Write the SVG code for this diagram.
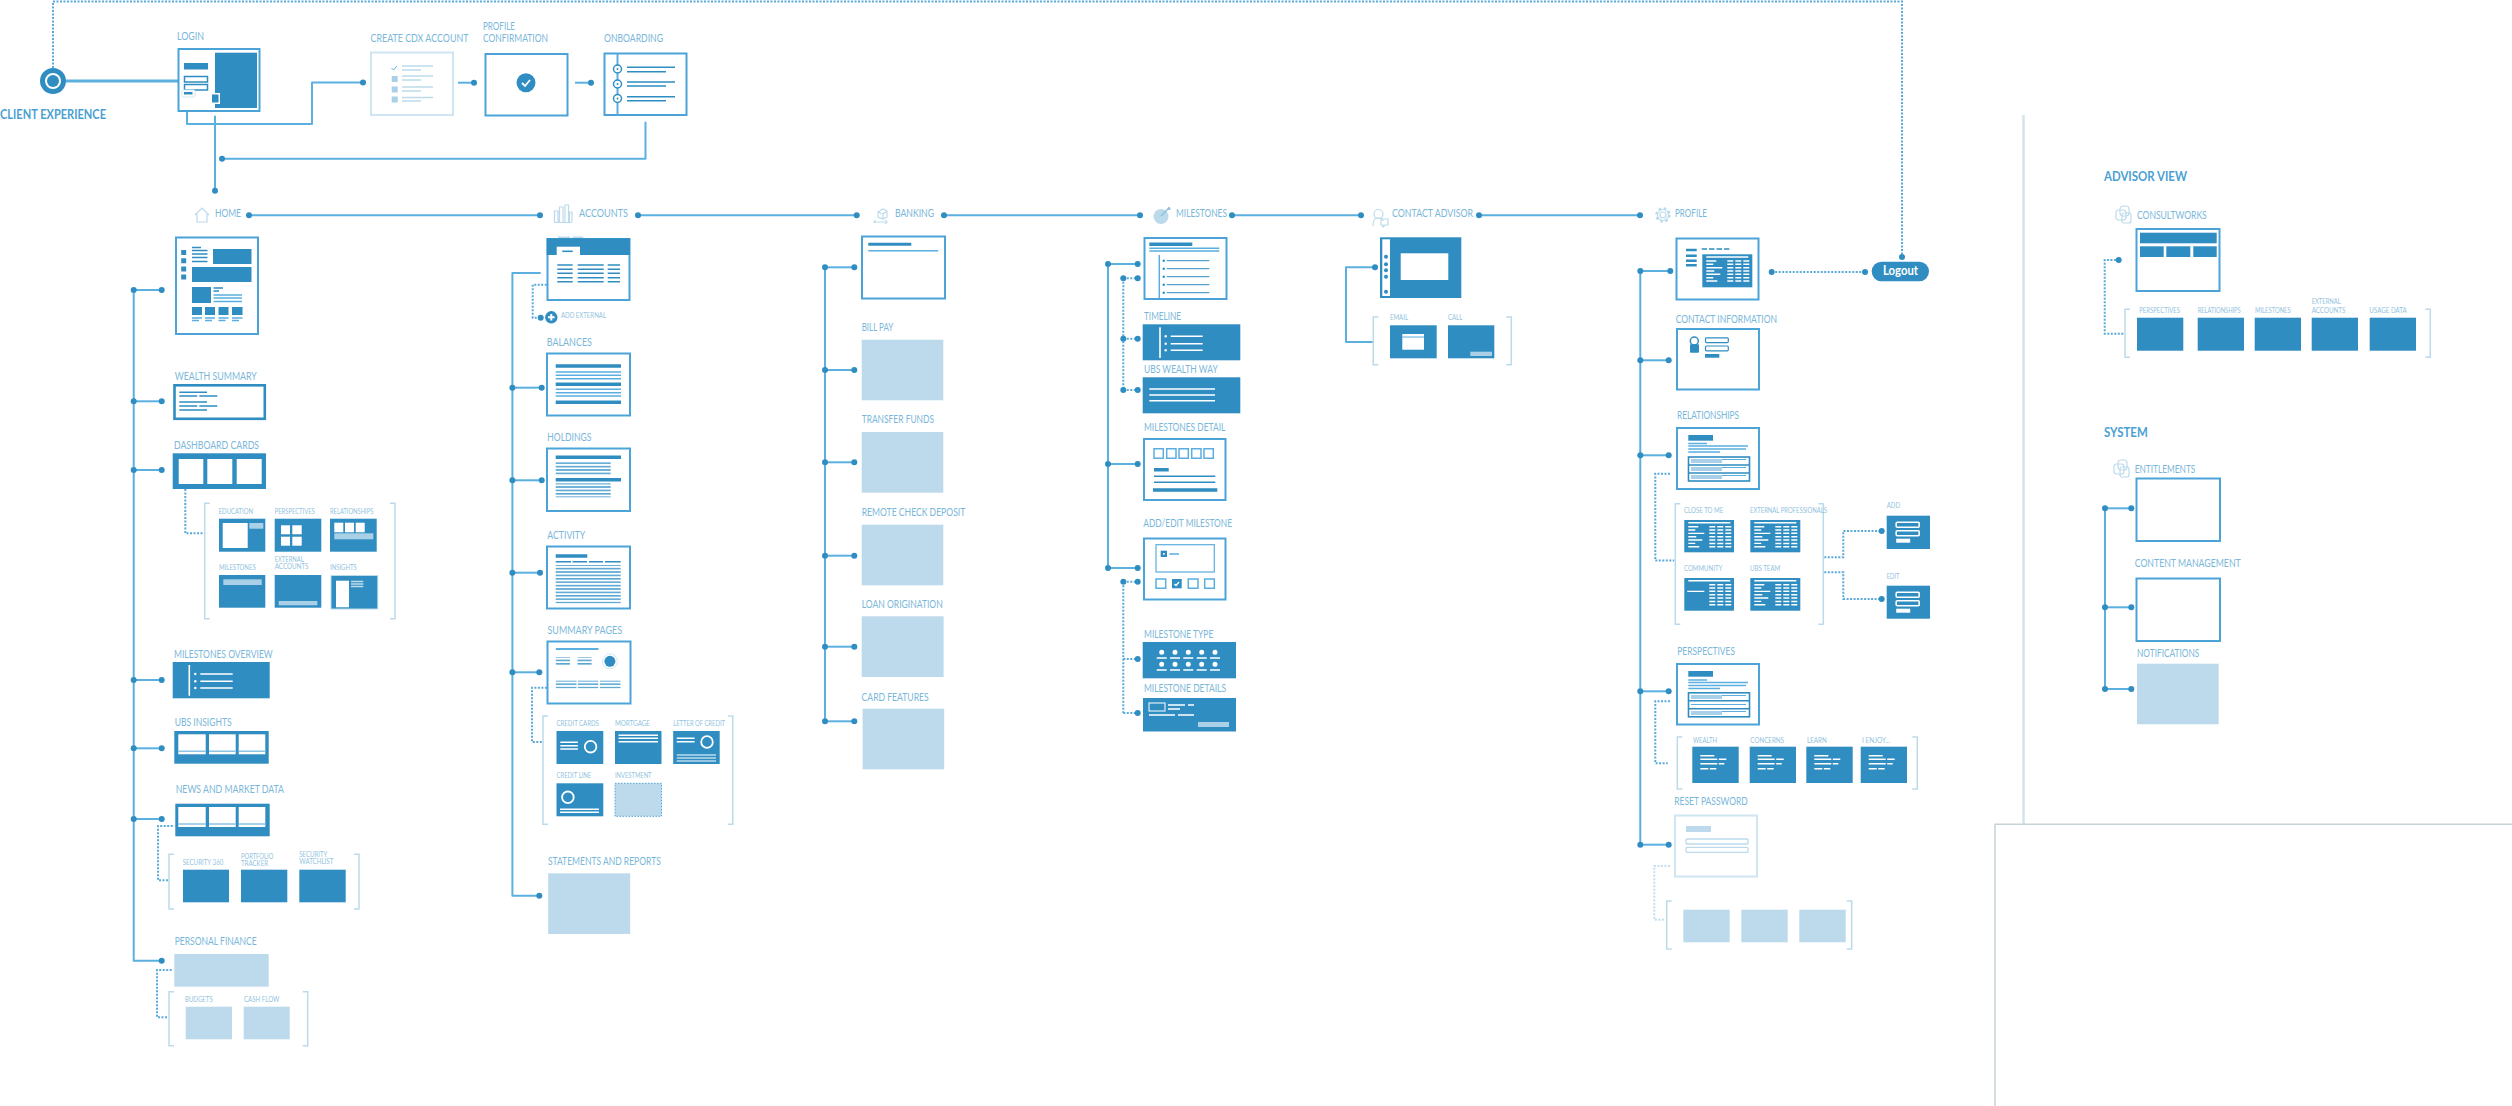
<svg xmlns="http://www.w3.org/2000/svg" width="2512" height="1106" viewBox="0 0 2512 1106">
<style>
text{font-family:Lato,"Noto Sans","Liberation Sans",sans-serif}
.l{font-size:10.5px;fill:#7ab7da}
.s{font-size:7.5px;fill:#92c3de}
.h{font-size:12.5px;font-weight:700;fill:#4a9fd2}
.x{fill:#fff;stroke:#4ba3d8;stroke-width:2}
.xd{fill:#fff;stroke:#2f8dc1;stroke-width:2.6}
.xl{fill:#fff;stroke:#cfe5f1;stroke-width:2}
.f{fill:#2f8dc1}
.t{fill:#bcdaeb}
.w{fill:#fff}
.a{fill:#a9d0e6}
.bl{stroke:#2f8dc1;stroke-width:1.6;fill:none}
.b3{stroke:#2f8dc1;stroke-width:3.5;fill:none}
.ml{stroke:#5aaee0;stroke-width:1.5;fill:none}
.wl{stroke:#fff;stroke-width:1.4;fill:none}
.tl{stroke:#bcdaeb;stroke-width:1.5;fill:none}
.il{stroke:#bcdaeb;stroke-width:1.2;fill:none}
.wr{stroke:#fff;stroke-width:1.6;fill:none}
.bk{stroke:#bcdaeb;stroke-width:1.5;fill:none}
.c{stroke:#5bb0e0;stroke-width:2;fill:none;stroke-linejoin:round}
.d{stroke:#5aaadb;stroke-width:2;stroke-dasharray:2 1.5;fill:none}
.dl{stroke:#c4deec;stroke-width:2;stroke-dasharray:2 1.5;fill:none}
.e{marker-end:url(#dot)}
.se{marker-start:url(#dot);marker-end:url(#dot)}
.rule{stroke:#c8d2d6;stroke-width:1.5;fill:none}
</style>
<defs>
<marker id="dot" markerUnits="userSpaceOnUse" markerWidth="8" markerHeight="8" refX="4" refY="4"><circle cx="4" cy="4" r="3" fill="#2f8dc1"/></marker>
<pattern id="stp" patternUnits="userSpaceOnUse" width="4" height="3.4"><rect width="4" height="1.6" fill="#5aa6d2"/></pattern>
<g id="tbl"><path class="wl" d="M4 2.7H46M4 6.7H14M4 10H11M4 13.4H20M4 16.7H12M4 20H18M4 23.4H11M4 26.7H15"/><path d="M28 5.9V27.5M36 5.9V27.5M44 5.9V27.5" stroke="#fff" stroke-width="6" stroke-dasharray="1.5 1.85" fill="none"/></g>
<g id="tblc"><path class="wl" d="M4 2.7H46M3 13.4H20"/><path d="M28 5.9V27.5M36 5.9V27.5M44 5.9V27.5" stroke="#fff" stroke-width="6" stroke-dasharray="1.5 1.85" fill="none"/></g>
<g id="frm"><rect x="9.5" y="6.5" width="23" height="5" rx="1" class="wr"/><rect x="9.5" y="15" width="23" height="5" rx="1" class="wr"/><rect x="9.5" y="23" width="14" height="4" class="w"/></g>
<g id="txt"><path class="wl" d="M8 9H22M8 12.5H25M26.5 12.5H34M8 17H25M26.5 17H32M8 22H16M17.5 22H24"/></g>
<g id="three"><rect width="27.4" height="20" class="w"/><rect x="30.7" width="26.7" height="20" class="w"/><rect x="60.4" width="26.6" height="20" class="w"/><path stroke="#8cc4e4" stroke-width="1.5" fill="none" d="M0 17H27.4M30.7 17H57.4M60.4 17H87"/></g>
<g id="stack"><rect x="1" y="5" width="10" height="10" rx="2.5" class="il"/><rect x="5" y="1" width="9" height="10" rx="3" class="il"/><rect x="7" y="8" width="9" height="10" rx="2" class="il"/></g>
</defs>
<rect width="2512" height="1106" fill="#fff"/>

<g id="connectors">
<path class="d e" d="M53 68V1.5H1902V257"/>
<path class="c" style="stroke-width:3" d="M66 81H178"/>
<path class="c e" d="M187 111V124H312V82.5H363"/>
<path class="c e" d="M458 82.7H474"/>
<path class="c e" d="M575 82.7H591"/>
<path class="c e" d="M645.5 121.7V158.7H222"/>
<path class="c e" d="M215 115.7V190.7"/>
<path class="c se" d="M249 215.3H540"/>
<path class="c se" d="M638 215.3H856.7"/>
<path class="c se" d="M944 215.3H1140"/>
<path class="c se" d="M1232 215.3H1361"/>
<path class="c se" d="M1479 215.3H1640"/>

<path class="c e" d="M161.7 290H133.7V960.7H161.7"/>
<path class="c se" d="M133.7 290H161.7"/>
<path class="c se" d="M133.7 401.3H161.7"/>
<path class="c se" d="M133.7 470H161.7"/>
<path class="c se" d="M133.7 680H161.7"/>
<path class="c se" d="M133.7 748.3H161.7"/>
<path class="c se" d="M133.7 819H161.7"/>
<path class="d" d="M185.3 489V533.3H203"/>
<path class="d" d="M172.7 826H158V880.3H168.7"/>
<path class="d" d="M171.7 970H157V1017.3H167.3"/>

<path class="c e" d="M540.7 273H512.4V895.7H539.3"/>
<path class="c se" d="M512.4 387.7H541.7"/>
<path class="c se" d="M512.4 480.3H541.7"/>
<path class="c se" d="M512.4 572.7H540"/>
<path class="c se" d="M512.4 672.3H539.3"/>
<path class="d e" d="M546.7 284.7H532.7V317.7H540.7"/>
<path class="d" d="M546.9 687.7H532V742H542.7"/>

<path class="c" d="M825 267.3V721.3"/>
<path class="c se" d="M825 267.3H854.3"/>
<path class="c se" d="M825 370H854.3"/>
<path class="c se" d="M825 462.3H854.3"/>
<path class="c se" d="M825 555.7H854.3"/>
<path class="c se" d="M825 646.7H854.3"/>
<path class="c se" d="M825 721.3H854.3"/>

<path class="c" d="M1108 264V568"/>
<path class="c se" d="M1108 264H1137.7"/>
<path class="c se" d="M1108 464H1137.7"/>
<path class="c se" d="M1108 568H1137.7"/>
<path class="d" d="M1123.3 278.3V390"/>
<path class="d se" d="M1123.3 278.3H1137.7"/>
<path class="d se" d="M1123.3 338.7H1137.7"/>
<path class="d se" d="M1123.3 390H1137.7"/>
<path class="d" d="M1123.3 581.7V713"/>
<path class="d se" d="M1123.3 581.7H1137.7"/>
<path class="d e" d="M1123.3 659H1137.7"/>
<path class="d e" d="M1123.3 713H1137.7"/>

<path class="c e" d="M1373.3 342H1346V267.3H1375"/>

<path class="c" d="M1640.3 271V844.7"/>
<path class="c se" d="M1640.3 271H1670.3"/>
<path class="c se" d="M1640.3 360.3H1668.7"/>
<path class="c se" d="M1640.3 455.3H1668.7"/>
<path class="c se" d="M1640.3 691.3H1668.7"/>
<path class="c se" d="M1640.3 844.7H1668.7"/>
<path class="d se" d="M1771.7 272H1865"/>
<path class="d" d="M1670 473.7H1655.3V560.5H1674.3"/>
<path class="d e" d="M1824.3 557.3H1843.3V531H1881.7"/>
<path class="d e" d="M1824.3 572.3H1843.3V599H1881.7"/>
<path class="d" d="M1670 701.3H1655.3V763.3H1667.7"/>
<path class="dl" d="M1670 866H1654.3V919.7H1665"/>

<path class="d e" d="M2123.3 333.7H2104.7V260H2118.7"/>
<path class="c" d="M2105 508.3V689"/>
<path class="c se" d="M2105 508.3H2131.3"/>
<path class="c se" d="M2105 607.3H2131.3"/>
<path class="c se" d="M2105 689H2131.3"/>
</g>

<g id="partitions">
<path d="M2023.5 115V824" stroke="#d5e3ea" stroke-width="2.5" fill="none"/>
<path class="rule" d="M1995 1106V824.3H2512"/>
</g>

<g id="client-experience">
<circle cx="53" cy="81" r="10.5" fill="#fff" stroke="#2f8dc1" stroke-width="5"/>
<circle cx="53" cy="81" r="6" class="f"/>
<text class="h" x="0" y="119" lengthAdjust="spacingAndGlyphs" textLength="106">CLIENT EXPERIENCE</text>
</g>

<g id="login">
<text class="l" x="177" y="39.5" lengthAdjust="spacingAndGlyphs" textLength="27">LOGIN</text>
<rect x="178.5" y="49" width="81" height="62" class="x"/>
<rect x="215" y="52.7" width="42" height="55.3" class="f"/>
<rect x="184" y="63" width="24" height="6.5" class="f"/>
<rect x="184.500" y="76.5" width="23" height="5.5" class="w" stroke="#2f8dc1" stroke-width="1.5"/>
<rect x="184.500" y="84.5" width="23" height="5.5" class="w" stroke="#2f8dc1" stroke-width="1.5"/>
<rect x="182" y="90" width="13" height="7" rx="1" class="w" stroke="#d5e8f2"/>
<rect x="184" y="92" width="8.5" height="2.5" class="f"/>
<rect x="210" y="93" width="10" height="11" class="w"/>
<rect x="212" y="94.5" width="6.5" height="8" class="f"/>
</g>

<g id="create-cdx">
<text class="l" x="370.5" y="42" lengthAdjust="spacingAndGlyphs" textLength="98">CREATE CDX ACCOUNT</text>
<rect x="371" y="52.5" width="82" height="62.5" class="xl"/>
<path class="ml" style="stroke-width:1" d="M391.5 68l2 2 3.5-4"/>
<rect x="391.7" y="76" width="6" height="6" class="a"/><rect x="391.7" y="86.5" width="6" height="6" class="a"/><rect x="391.7" y="96.5" width="6" height="6" class="a"/>
<path class="tl" d="M402 66H433M402 70H421M402 76H433M402 80H421M402 87H433M402 91H421M402 97.5H433M402 101H421"/>
</g>

<g id="profile-confirmation">
<text class="l" x="483" y="30" lengthAdjust="spacingAndGlyphs" textLength="32">PROFILE</text>
<text class="l" x="483" y="41.5" lengthAdjust="spacingAndGlyphs" textLength="65">CONFIRMATION</text>
<rect x="485.5" y="54" width="82" height="61.5" class="x"/>
<circle cx="526" cy="82.7" r="9.5" class="f"/>
<path d="M522 83l3 3 5-6" stroke="#fff" stroke-width="1.8" fill="none"/>
</g>

<g id="onboarding">
<text class="l" x="604" y="41.5" lengthAdjust="spacingAndGlyphs" textLength="59">ONBOARDING</text>
<rect x="604.5" y="53.5" width="82" height="61.5" class="x"/>
<path class="ml" style="stroke-width:2" d="M617.5 54V115"/>
<circle cx="617.5" cy="69" r="4" class="w" stroke="#2f8dc1" stroke-width="1.5"/>
<circle cx="617.5" cy="84" r="4" class="w" stroke="#2f8dc1" stroke-width="1.5"/>
<circle cx="617.5" cy="98.5" r="4" class="w" stroke="#2f8dc1" stroke-width="1.5"/>
<circle cx="617.5" cy="69" r="1" class="f"/><circle cx="617.5" cy="84" r="1" class="f"/><circle cx="617.5" cy="98.5" r="1" class="f"/>
<path class="bl" d="M627 67.3H675M627 71.7H666M627 82H675M627 86H666M627 96.7H675M627 100.7H666"/>
</g>

<g id="home">
<path class="il" d="M195 215L202 208L209 215M197 214V222H207V214"/>
<text class="l" x="215" y="217" lengthAdjust="spacingAndGlyphs" textLength="26">HOME</text>
<rect x="176" y="237.5" width="82" height="96.5" class="x"/>
<path d="M183.7 250V281" stroke="#2f8dc1" stroke-width="5" stroke-dasharray="5 3.2" fill="none"/>
<path class="bl" d="M192 247.5H201M192 250.5H207.5M192 254H207.5M192 257.5H207.5M192 261.5H207.5"/>
<rect x="213" y="249" width="38.5" height="15" class="f"/>
<rect x="192" y="267" width="59.5" height="15" class="f"/>
<rect x="192" y="287" width="19" height="16" class="f"/>
<path class="bl" d="M213.5 288H223M213.5 291H219"/>
<path class="ml" d="M213.5 295H242M213.5 298H242M213.5 301.5H242"/>
<rect x="192" y="307" width="10" height="8" class="f"/><rect x="205" y="307" width="10" height="8" class="f"/><rect x="218.5" y="307" width="10" height="8" class="f"/><rect x="232" y="307" width="10.5" height="8" class="f"/>
<path class="ml" d="M192 318H202M205 318H215M218.5 318H228.5M232 318H242.5M192 320.5H199M205 320.5H212M218.5 320.5H225.5M232 320.5H239"/>
</g>

<g id="wealth-summary">
<text class="l" x="174.7" y="380" lengthAdjust="spacingAndGlyphs" textLength="82">WEALTH SUMMARY</text>
<rect x="174.5" y="385.3" width="90.300" height="33.500" class="xd"/>
<path class="bl" d="M179.3 392.3H207M179.3 396H197.3M199.3 396H217.3M179.3 402H207M179.3 406H197.3M199.3 406H217.3M179.3 410H207"/>
</g>

<g id="dashboard-cards">
<text class="l" x="174" y="449.3" lengthAdjust="spacingAndGlyphs" textLength="85">DASHBOARD CARDS</text>
<rect x="172.7" y="453.3" width="93.3" height="35.7" class="f"/>
<rect x="178.7" y="459" width="24.6" height="25" class="w"/><rect x="207.3" y="459" width="25" height="25" class="w"/><rect x="236.7" y="459" width="25" height="25" class="w"/>
<path class="bk" d="M209.7 503.3H204.7V618.7H209.7M390 503.3H395V618.7H390"/>
<text class="s" x="218.7" y="513.7" lengthAdjust="spacingAndGlyphs" textLength="34.3">EDUCATION</text>
<text class="s" x="274.7" y="513.7" lengthAdjust="spacingAndGlyphs" textLength="40">PERSPECTIVES</text>
<text class="s" x="330" y="513.7" lengthAdjust="spacingAndGlyphs" textLength="43.3">RELATIONSHIPS</text>
<rect x="219" y="518.7" width="46.3" height="33" class="f"/>
<rect x="222.7" y="523" width="25" height="25" class="w"/><rect x="249.3" y="523" width="14" height="5.7" class="a"/>
<rect x="274.7" y="518.7" width="46.6" height="33" class="f"/>
<rect x="281" y="525.3" width="9" height="9" class="w"/><rect x="292.3" y="525.3" width="9.4" height="9" class="w"/><rect x="281" y="536.7" width="9" height="9" class="w"/><rect x="292.3" y="536.7" width="9.4" height="9" class="w"/>
<rect x="330" y="518.7" width="46.7" height="33" class="f"/>
<rect x="334.3" y="522.7" width="9" height="9.6" class="w"/><rect x="345" y="522.7" width="9" height="9.6" class="w"/><rect x="355.7" y="522.7" width="9" height="9.6" class="w"/><rect x="334.3" y="533.3" width="39" height="6" class="a"/>
<text class="s" x="219" y="570" lengthAdjust="spacingAndGlyphs" textLength="36.7">MILESTONES</text>
<text class="s" x="274.7" y="561.7" lengthAdjust="spacingAndGlyphs" textLength="29">EXTERNAL</text>
<text class="s" x="274.7" y="569" lengthAdjust="spacingAndGlyphs" textLength="33.7">ACCOUNTS</text>
<text class="s" x="330" y="570" lengthAdjust="spacingAndGlyphs" textLength="26.7">INSIGHTS</text>
<rect x="219" y="575" width="46.3" height="32.7" class="f"/><rect x="223.3" y="579.3" width="38.4" height="5.7" class="a"/>
<rect x="274.7" y="575" width="46.6" height="32.7" class="f"/><rect x="278.7" y="601" width="38.6" height="4.3" class="a"/>
<rect x="331" y="575.5" width="46.8" height="33.5" class="f" stroke="#bcdaeb"/>
<rect x="336" y="580.7" width="13" height="26.6" class="w"/>
<path stroke="#bcdaeb" stroke-width="1.4" fill="none" d="M351 581.5H363.3M351 584H363.3M351 586.5H363.3"/>
</g>

<g id="milestones-overview">
<text class="l" x="174" y="657.7" lengthAdjust="spacingAndGlyphs" textLength="98.7">MILESTONES OVERVIEW</text>
<rect x="172.7" y="662" width="97" height="36.3" class="f"/>
<path class="wr" d="M189.3 665V695.7M200.3 674H232.7M200.3 681.3H232.7M200.3 688H232.7"/>
<circle cx="195.3" cy="674" r="1.2" class="w"/><circle cx="195.3" cy="681.3" r="1.2" class="w"/><circle cx="195.3" cy="688" r="1.2" class="w"/>
</g>

<g id="ubs-insights">
<text class="l" x="174.7" y="725.7" lengthAdjust="spacingAndGlyphs" textLength="57">UBS INSIGHTS</text>
<rect x="174.3" y="731" width="94.4" height="32.7" class="f"/>
<use href="#three" x="178.3" y="734.3"/>
</g>

<g id="news-and-market-data">
<text class="l" x="175.7" y="793.3" lengthAdjust="spacingAndGlyphs" textLength="108.3">NEWS AND MARKET DATA</text>
<rect x="175.3" y="803.7" width="94.4" height="32.6" class="f"/>
<use href="#three" x="178.3" y="807"/>
<path class="bk" d="M174 854.3H169V909H174M354 854.3H359V909H354"/>
<text class="s" x="182.7" y="864.7" lengthAdjust="spacingAndGlyphs" textLength="40.6">SECURITY 360</text>
<text class="s" x="241" y="858.7" lengthAdjust="spacingAndGlyphs" textLength="32.3">PORTFOLIO</text>
<text class="s" x="241" y="865.7" lengthAdjust="spacingAndGlyphs" textLength="27">TRACKER</text>
<text class="s" x="299.3" y="856.7" lengthAdjust="spacingAndGlyphs" textLength="28">SECURITY</text>
<text class="s" x="299.3" y="864" lengthAdjust="spacingAndGlyphs" textLength="34">WATCHLIST</text>
<rect x="183" y="869.7" width="46" height="32.6" class="f"/>
<rect x="241" y="869.7" width="46.3" height="32.6" class="f"/>
<rect x="299.3" y="869.7" width="46.4" height="32.6" class="f"/>
</g>

<g id="personal-finance">
<text class="l" x="174.7" y="945" lengthAdjust="spacingAndGlyphs" textLength="82">PERSONAL FINANCE</text>
<rect x="174.3" y="954" width="94.4" height="32.7" class="t"/>
<path class="bk" d="M174 991.7H169V1045.7H174M302.7 991.7H307.7V1045.7H302.7"/>
<text class="s" x="185" y="1001.7" lengthAdjust="spacingAndGlyphs" textLength="27.7">BUDGETS</text>
<text class="s" x="244" y="1001.7" lengthAdjust="spacingAndGlyphs" textLength="35.3">CASH FLOW</text>
<rect x="185.7" y="1006.7" width="46.3" height="32.6" class="t"/>
<rect x="243.7" y="1006.7" width="46" height="32.6" class="t"/>
</g>

<g id="accounts">
<path class="il" d="M554.5 222V211h3.5v11M559.5 222V207h3.5v15M565 222V205h3.5v17M569.5 222V212h2.5v10M554 222.500H572"/>
<text class="l" x="579" y="217" lengthAdjust="spacingAndGlyphs" textLength="49">ACCOUNTS</text>
<rect x="558" y="236.500" width="12" height="2" class="t"/><rect x="572.7" y="236.5" width="10.6" height="2" class="t"/>
<rect x="547.5" y="239" width="82" height="61" class="x"/>
<rect x="546.7" y="238.3" width="83.3" height="16.7" class="f"/>
<rect x="556.7" y="246.7" width="23.3" height="9" class="w"/>
<path class="bl" d="M562.3 251.3H572.7"/>
<path class="bl" d="M557.3 265H572.7M577.7 265H603.7M607.7 265H620M557.3 269.3H572.7M577.7 269.3H603.7M607.7 269.3H620M557.3 273.3H572.7M577.7 273.3H603.7M607.7 273.3H620M557.3 277.7H572.7M577.7 277.7H603.7M607.7 277.7H620M557.3 281.7H572.7M577.7 281.7H603.7M607.7 281.7H620"/>
<circle cx="551.3" cy="317.3" r="6.2" class="f"/>
<path class="wr" style="stroke-width:2" d="M548 317.3H554.6M551.3 314V320.6"/>
<text class="s" x="561" y="318.3" lengthAdjust="spacingAndGlyphs" textLength="45">ADD EXTERNAL</text>
</g>

<g id="balances">
<text class="l" x="546.7" y="346" lengthAdjust="spacingAndGlyphs" textLength="45.3">BALANCES</text>
<rect x="547" y="353.5" width="83" height="62" class="x"/>
<path class="b3" d="M555.7 366H621M555.7 384.3H621M555.7 402.3H621"/>
<path class="ml" d="M555.7 372H621M555.7 375.3H621M555.7 378.7H621M555.7 389.3H621M555.7 392.7H621M555.7 396H621"/>
</g>

<g id="holdings">
<text class="l" x="547.3" y="441" lengthAdjust="spacingAndGlyphs" textLength="44">HOLDINGS</text>
<rect x="547" y="448.5" width="83" height="62.5" class="x"/>
<path class="b3" d="M555.7 457.3H621M555.7 479.7H621"/>
<rect x="555.7" y="461.7" width="55" height="14" fill="url(#stp)"/>
<rect x="555.7" y="483.3" width="55" height="14" fill="url(#stp)"/>
</g>

<g id="activity">
<text class="l" x="547.3" y="539" lengthAdjust="spacingAndGlyphs" textLength="38">ACTIVITY</text>
<rect x="547" y="546.5" width="83" height="62" class="x"/>
<path class="b3" d="M555.7 556H587.3"/>
<path class="bl" d="M555.7 561.7H571M572.5 561.7H587M589 561.7H603M605 561.7H620.7"/>
<rect x="555.7" y="565" width="65" height="38.3" fill="url(#stp)"/>
</g>

<g id="summary-pages">
<text class="l" x="547.5" y="634" lengthAdjust="spacingAndGlyphs" textLength="74.5">SUMMARY PAGES</text>
<rect x="547.5" y="641.5" width="83" height="62" class="x"/>
<path class="ml" style="stroke-width:2" d="M555.8 649H598.5"/>
<rect x="555.8" y="657.3" width="14.2" height="7.7" fill="url(#stp)"/><rect x="577.5" y="657.3" width="14.1" height="7.7" fill="url(#stp)"/>
<circle cx="609.9" cy="661.3" r="7.5" class="w" stroke="#d5e8f2"/><circle cx="609.9" cy="661.3" r="5.5" class="f"/>
<rect x="555.8" y="680.7" width="20.7" height="7.6" fill="url(#stp)"/><rect x="577.9" y="680.7" width="20.3" height="7.6" fill="url(#stp)"/><rect x="600" y="680.7" width="20.5" height="7.6" fill="url(#stp)"/>
<path class="bk" d="M548 716H543V824.3H548M727.8 716H732.8V824.3H727.8"/>
<text class="s" x="556.5" y="726" lengthAdjust="spacingAndGlyphs" textLength="42.4">CREDIT CARDS</text>
<text class="s" x="615" y="726" lengthAdjust="spacingAndGlyphs" textLength="35">MORTGAGE</text>
<text class="s" x="673.2" y="726" lengthAdjust="spacingAndGlyphs" textLength="51.8">LETTER OF CREDIT</text>
<rect x="556.5" y="731" width="46.8" height="33" class="f"/>
<path class="wl" d="M560.3 742.3H577.9M560.3 745.7H577.9M560.3 749H577.9"/>
<circle cx="590.6" cy="746.7" r="5.8" class="wr" style="stroke-width:1.8"/>
<rect x="615" y="731" width="46.5" height="33" class="f"/>
<path class="wl" d="M618.5 735.3H658M618.5 738.3H658M618.5 741.7H658"/>
<rect x="673.2" y="731" width="46.5" height="33" class="f"/>
<path class="wl" d="M676.7 738.3H694.6M676.7 741.7H694.6"/>
<circle cx="707" cy="742" r="5.8" class="wr" style="stroke-width:1.8"/>
<path stroke="#bcdaeb" stroke-width="1.4" fill="none" d="M676.7 755H716M676.7 758H716M676.7 761H716"/>
<text class="s" x="556.5" y="778.3" lengthAdjust="spacingAndGlyphs" textLength="34.8">CREDIT LINE</text>
<text class="s" x="615" y="778.3" lengthAdjust="spacingAndGlyphs" textLength="36.5">INVESTMENT</text>
<rect x="556.5" y="783.3" width="46.8" height="33" class="f"/>
<circle cx="567.9" cy="797.3" r="5.8" class="wr" style="stroke-width:1.8"/>
<path class="wl" d="M560 809.3H598.9M560 812.3H598.9"/>
<rect x="615" y="783.3" width="46.5" height="33" class="t" stroke="#4ea4d8" stroke-dasharray="1.5 1.5"/>
</g>

<g id="statements-and-reports">
<text class="l" x="547.9" y="865" lengthAdjust="spacingAndGlyphs" textLength="112.9">STATEMENTS AND REPORTS</text>
<rect x="548.2" y="873.3" width="82" height="60.7" class="t"/>
</g>

<g id="banking">
<path class="il" d="M878 212l5-3 4 2v6l-4 2-5-2zM878 212l5 2 4-3M883 214v5M873 222h12M875 220v3M885 220l2 2-2 2"/>
<text class="l" x="895" y="217" lengthAdjust="spacingAndGlyphs" textLength="39">BANKING</text>
<rect x="862" y="236.5" width="83" height="62" class="x"/>
<path class="b3" style="stroke-width:3" d="M868.3 244.3H911.3"/>
<path class="ml" d="M868.3 250.7H938.3"/>
</g>
<g id="bill-pay"><text class="l" x="861.7" y="331" lengthAdjust="spacingAndGlyphs" textLength="31.6">BILL PAY</text><rect x="861.7" y="339.7" width="81.6" height="60.6" class="t"/></g>
<g id="transfer-funds"><text class="l" x="861.7" y="422.7" lengthAdjust="spacingAndGlyphs" textLength="72.3">TRANSFER FUNDS</text><rect x="861.7" y="432" width="81.6" height="60.7" class="t"/></g>
<g id="remote-check-deposit"><text class="l" x="861.7" y="516" lengthAdjust="spacingAndGlyphs" textLength="103.6">REMOTE CHECK DEPOSIT</text><rect x="861.7" y="524.7" width="81.6" height="60.6" class="t"/></g>
<g id="loan-origination"><text class="l" x="861.7" y="608" lengthAdjust="spacingAndGlyphs" textLength="81">LOAN ORIGINATION</text><rect x="861.7" y="616.3" width="81.9" height="60.7" class="t"/></g>
<g id="card-features"><text class="l" x="861.6" y="701" lengthAdjust="spacingAndGlyphs" textLength="67.1">CARD FEATURES</text><rect x="862.6" y="708.7" width="81.6" height="60.6" class="t"/></g>

<g id="milestones">
<circle cx="1161" cy="216.5" r="7.5" class="t"/>
<path d="M1161 216l8-8" stroke="#8cc0dc" stroke-width="1.5" fill="none"/><circle cx="1169" cy="208.5" r="1.5" fill="#8cc0dc"/>
<text class="l" x="1176" y="217" lengthAdjust="spacingAndGlyphs" textLength="51">MILESTONES</text>
<rect x="1144.5" y="238" width="82" height="61" class="x"/>
<path class="b3" d="M1149.3 244.3H1192.3"/>
<path class="ml" d="M1149.3 248.3H1219.3M1149.3 251H1219.3M1159.3 255V298"/>
<path class="bl" style="stroke-width:1" d="M1166.7 260.7H1209.3M1166.7 268.7H1209.3M1166.7 276.7H1209.3M1166.7 284.7H1209.3M1166.7 292.7H1209.3"/>
<circle cx="1163.7" cy="260.7" r="1.2" class="f"/><circle cx="1163.7" cy="268.7" r="1.2" class="f"/><circle cx="1163.7" cy="276.7" r="1.2" class="f"/><circle cx="1163.7" cy="284.7" r="1.2" class="f"/><circle cx="1163.7" cy="292.7" r="1.2" class="f"/>
</g>

<g id="timeline">
<text class="l" x="1144" y="320" lengthAdjust="spacingAndGlyphs" textLength="37">TIMELINE</text>
<rect x="1142.7" y="324.3" width="97.6" height="36" class="f"/>
<path class="wr" d="M1160 327.3V358M1170.7 336.3H1202.7M1170.7 343.7H1202.7M1170.7 350.3H1202.7"/>
<circle cx="1165.7" cy="336.3" r="1.2" class="w"/><circle cx="1165.7" cy="343.7" r="1.2" class="w"/><circle cx="1165.7" cy="350.3" r="1.2" class="w"/>
</g>

<g id="ubs-wealth-way">
<text class="l" x="1144" y="373.3" lengthAdjust="spacingAndGlyphs" textLength="73.7">UBS WEALTH WAY</text>
<rect x="1142.7" y="377.3" width="97.6" height="36" class="f"/>
<path class="wr" d="M1149.3 389H1215M1149.3 395H1215M1149.3 400.7H1215"/>
</g>

<g id="milestones-detail">
<text class="l" x="1144" y="430.7" lengthAdjust="spacingAndGlyphs" textLength="81.3">MILESTONES DETAIL</text>
<rect x="1144" y="439" width="81.5" height="61" class="x"/>
<path class="ml" d="M1154 448.7h9.3v9.6h-9.3zM1166.7 448.7h9.3v9.6h-9.3zM1179 448.7h9.3v9.6h-9.3zM1191.7 448.7h9.3v9.6h-9.3zM1204 448.7h9.3v9.6h-9.3z"/>
<path class="b3" d="M1154 469.7H1168.7M1153 490H1217.3"/>
<path class="bl" d="M1154 476.3H1215.3M1154 482.3H1215.3"/>
</g>

<g id="add-edit-milestone">
<text class="l" x="1143.3" y="527" lengthAdjust="spacingAndGlyphs" textLength="88.7">ADD/EDIT MILESTONE</text>
<rect x="1144" y="538.5" width="81.5" height="61" class="x"/>
<rect x="1156" y="544.7" width="58.3" height="27.3" fill="none" stroke="#5aaee0" stroke-width="1.2"/>
<rect x="1160.7" y="550.7" width="6.3" height="6.3" class="f"/><rect x="1163" y="553" width="1.7" height="1.7" class="w"/>
<path class="ml" d="M1169.3 554H1179"/>
<path class="ml" d="M1156 579h9.7v9.3h-9.7zM1188.3 579h9.7v9.3h-9.7zM1204.7 579h9.6v9.3h-9.6z"/>
<rect x="1172" y="579" width="9.7" height="9.3" class="f"/>
<path class="wl" d="M1174.5 584l1.5 1.5 3-3.5"/>
</g>

<g id="milestone-type">
<text class="l" x="1144" y="637.7" lengthAdjust="spacingAndGlyphs" textLength="69.3">MILESTONE TYPE</text>
<rect x="1142.7" y="642" width="93.3" height="36.3" class="f"/>
<path d="M1161.7 652.3h.01M1175 652.3h.01M1188.3 652.3h.01M1201.7 652.3h.01M1215 652.3h.01M1161.7 664.3h.01M1175 664.3h.01M1188.3 664.3h.01M1201.7 664.3h.01M1215 664.3h.01" stroke="#fff" stroke-width="5" stroke-linecap="round" fill="none"/>
<path class="wl" d="M1156.7 658H1166.7M1170 658H1180M1183.3 658H1193.3M1196.7 658H1206.7M1210 658H1220M1156.7 670H1166.7M1170 670H1180M1183.3 670H1193.3M1196.7 670H1206.7M1210 670H1220"/>
</g>

<g id="milestone-details">
<text class="l" x="1144" y="692" lengthAdjust="spacingAndGlyphs" textLength="82">MILESTONE DETAILS</text>
<rect x="1143" y="698" width="93" height="33.500" class="f"/>
<rect x="1149" y="703" width="16" height="8" class="wr" style="stroke-width:1"/>
<path class="wl" d="M1168 705H1185M1168 709H1180M1188 705H1194M1149 715H1175M1178 715H1194"/>
<rect x="1198" y="722" width="31" height="5" class="a"/>
</g>

<g id="contact-advisor">
<circle cx="1378.5" cy="214" r="4.5" class="il"/>
<path class="il" d="M1373 226c0-6 2-8 4-8h3c2 0 3 1 3 3M1381 219h7v6h-3l-2 2v-2h-2z"/>
<text class="l" x="1392" y="217" lengthAdjust="spacingAndGlyphs" textLength="81">CONTACT ADVISOR</text>
<rect x="1380" y="237.3" width="81.3" height="60.7" class="f"/>
<rect x="1382.3" y="239.3" width="7.7" height="56.7" class="w"/>
<circle cx="1386" cy="256.7" r="2" class="f"/><circle cx="1386" cy="264.3" r="2" class="f"/><circle cx="1386" cy="270.3" r="2" class="f"/><circle cx="1386" cy="276.7" r="2" class="f"/><circle cx="1386" cy="291.7" r="2" class="f"/>
<rect x="1400.7" y="253.3" width="47.6" height="26.7" class="w"/>
<path class="bk" d="M1378.3 317H1373.3V364.7H1378.3M1506.3 317H1511.3V364.7H1506.3"/>
<text class="s" x="1390" y="320" lengthAdjust="spacingAndGlyphs" textLength="18">EMAIL</text>
<text class="s" x="1448" y="320" lengthAdjust="spacingAndGlyphs" textLength="14.3">CALL</text>
<rect x="1390" y="325.3" width="46.7" height="33" class="f"/>
<rect x="1402.3" y="334" width="21.7" height="15.7" class="w"/>
<path class="ml" style="stroke-width:1" d="M1402.3 337H1424"/>
<rect x="1448" y="325.3" width="46.3" height="33" class="f"/>
<rect x="1470.3" y="351.7" width="21.7" height="4.3" class="a"/>
</g>

<g id="profile">
<circle cx="1663" cy="215" r="3" class="il"/>
<circle cx="1663" cy="215" r="5.5" class="il"/>
<circle cx="1663" cy="215" r="6.5" fill="none" stroke="#bcdaeb" stroke-width="2.5" stroke-dasharray="2.5 2.6"/>
<text class="l" x="1675" y="217" lengthAdjust="spacingAndGlyphs" textLength="32">PROFILE</text>
<rect x="1676.5" y="238.5" width="82" height="61" class="x"/>
<path class="b3" style="stroke-width:2.5" d="M1686 250H1696.7M1686 255.7H1696.7M1686 260.7H1696.7M1686 265.3H1696.7"/>
<path class="bl" d="M1701.7 249H1707M1709 249H1714.5M1716.5 249H1722M1724 249H1729.3"/>
<rect x="1702.3" y="254.3" width="50" height="33" class="f"/>
<use href="#tbl" x="1702.3" y="254.3"/>
</g>

<g id="logout">
<rect x="1871.7" y="261.7" width="57.3" height="19.6" rx="9.8" class="f"/>
<text x="1883" y="275" font-size="12.5" font-weight="700" fill="#fff" lengthAdjust="spacingAndGlyphs" textLength="35">Logout</text>
</g>

<g id="contact-information">
<text class="l" x="1675.7" y="322.7" lengthAdjust="spacingAndGlyphs" textLength="101.3">CONTACT INFORMATION</text>
<rect x="1677" y="329" width="82" height="60.5" class="x"/>
<circle cx="1694.3" cy="341" r="4" class="w" stroke="#2f8dc1" stroke-width="1.5"/>
<rect x="1690" y="344.3" width="9" height="8.4" rx="1" class="f"/>
<rect x="1705.5" y="337.8" width="22.8" height="4.8" rx="1" class="w" stroke="#2f8dc1" stroke-width="1.2"/>
<rect x="1705.5" y="346" width="22.8" height="4.8" rx="1" class="w" stroke="#2f8dc1" stroke-width="1.2"/>
<rect x="1705" y="354" width="14.3" height="3.7" class="f"/>
</g>

<g id="relationships">
<text class="l" x="1677" y="419.3" lengthAdjust="spacingAndGlyphs" textLength="62">RELATIONSHIPS</text>
<rect x="1677" y="428" width="82" height="61" class="x"/>
<rect x="1688.3" y="435" width="24.7" height="5.7" class="f"/>
<path class="ml" d="M1688.3 443.5H1707M1688.3 446H1748M1688.3 449H1746M1688.3 452H1720"/>
<rect x="1688.5" y="457" width="61" height="24" class="w" stroke="#2f8dc1" stroke-width="1.6"/>
<path class="bl" d="M1688.5 465H1749.5M1688.5 473H1749.5"/>
<rect x="1691" y="459" width="31" height="4" class="a"/><rect x="1691" y="467" width="31" height="4" class="a"/><rect x="1691" y="475" width="31" height="4" class="a"/>
<path class="ml" style="stroke-width:1" d="M1722 459.5H1746M1722 467.5H1746M1722 475.5H1746"/>
<path class="bk" d="M1680.3 503.7H1675.3V624.3H1680.3M1818.3 503.7H1823.3V624.3H1818.3"/>
<text class="s" x="1684" y="513" lengthAdjust="spacingAndGlyphs" textLength="39.3">CLOSE TO ME</text>
<text class="s" x="1750" y="513" lengthAdjust="spacingAndGlyphs" textLength="77">EXTERNAL PROFESSIONALS</text>
<rect x="1684.3" y="520" width="49.7" height="32.3" class="f"/><use href="#tbl" x="1684.3" y="520"/>
<rect x="1750.3" y="520" width="50" height="32.3" class="f"/><use href="#tbl" x="1750.3" y="520"/>
<text class="s" x="1684" y="571" lengthAdjust="spacingAndGlyphs" textLength="38.3">COMMUNITY</text>
<text class="s" x="1750" y="571" lengthAdjust="spacingAndGlyphs" textLength="30.3">UBS TEAM</text>
<rect x="1684.3" y="578" width="49.7" height="32.7" class="f"/><use href="#tblc" x="1684.3" y="578"/>
<rect x="1750.3" y="578" width="50" height="32.7" class="f"/><use href="#tbl" x="1750.3" y="578"/>
</g>

<g id="add">
<text class="s" x="1886.7" y="508.3" lengthAdjust="spacingAndGlyphs" textLength="13.3">ADD</text>
<rect x="1886.7" y="515.7" width="43.3" height="33.3" class="f"/>
<use href="#frm" x="1886.7" y="515.7"/>
</g>
<g id="edit">
<text class="s" x="1886.7" y="578.7" lengthAdjust="spacingAndGlyphs" textLength="12.6">EDIT</text>
<rect x="1886.7" y="585.7" width="43.3" height="33" class="f"/>
<use href="#frm" x="1886.7" y="585.7"/>
</g>

<g id="perspectives">
<text class="l" x="1677.3" y="655" lengthAdjust="spacingAndGlyphs" textLength="57.7">PERSPECTIVES</text>
<rect x="1677" y="664" width="82" height="60.5" class="x"/>
<rect x="1688.3" y="671" width="24.7" height="5.7" class="f"/>
<path class="ml" d="M1688.3 680H1707M1688.3 682.5H1748M1688.3 685.5H1746M1688.3 688.5H1720"/>
<rect x="1688.5" y="692.8" width="61" height="24" class="w" stroke="#2f8dc1" stroke-width="1.6"/>
<path class="bl" d="M1688.5 700.8H1749.5M1688.5 708.8H1749.5"/>
<rect x="1691" y="695" width="31" height="4" class="a"/><rect x="1691" y="711" width="31" height="4" class="a"/>
<path class="ml" style="stroke-width:1" d="M1722 695.5H1746M1691 704.5H1746M1722 711.5H1746"/>
<path class="bk" d="M1682.3 737H1677.3V789H1682.3M1912.3 737H1917.3V789H1912.3"/>
<text class="s" x="1693" y="743.3" lengthAdjust="spacingAndGlyphs" textLength="24">WEALTH</text>
<text class="s" x="1750.3" y="743.3" lengthAdjust="spacingAndGlyphs" textLength="33.7">CONCERNS</text>
<text class="s" x="1807" y="743.3" lengthAdjust="spacingAndGlyphs" textLength="19.7">LEARN</text>
<text class="s" x="1862" y="743.3" lengthAdjust="spacingAndGlyphs" textLength="28">I ENJOY...</text>
<rect x="1692.3" y="746.7" width="46.4" height="36.3" class="f"/><use href="#txt" x="1692.3" y="746.7"/>
<rect x="1749.7" y="746.7" width="46.3" height="36.3" class="f"/><use href="#txt" x="1749.7" y="746.7"/>
<rect x="1806.3" y="746.7" width="46.4" height="36.3" class="f"/><use href="#txt" x="1806.3" y="746.7"/>
<rect x="1860.7" y="746.7" width="46.3" height="36.3" class="f"/><use href="#txt" x="1860.7" y="746.7"/>
</g>

<g id="reset-password">
<text class="l" x="1674.3" y="805.3" lengthAdjust="spacingAndGlyphs" textLength="73.4">RESET PASSWORD</text>
<rect x="1675" y="815.5" width="82" height="61" class="xl"/>
<rect x="1686" y="826" width="25" height="6" class="t"/>
<rect x="1686" y="839" width="62" height="5" rx="1" fill="#fff" stroke="#bcdaeb" stroke-width="1.3"/>
<rect x="1686" y="847.3" width="62" height="5" rx="1" fill="#fff" stroke="#bcdaeb" stroke-width="1.3"/>
<path class="bk" d="M1671.7 901H1666.7V949H1671.7M1846.7 901H1851.7V949H1846.7"/>
<rect x="1683.3" y="909.7" width="46.4" height="32.6" class="t"/>
<rect x="1741.3" y="909.7" width="46.4" height="32.6" class="t"/>
<rect x="1799.3" y="909.7" width="46.4" height="32.6" class="t"/>
</g>

<g id="advisor-view">
<text class="h" x="2104" y="181.3" lengthAdjust="spacingAndGlyphs" textLength="83">ADVISOR VIEW</text>
<use href="#stack" x="2115" y="205"/>
<text class="l" x="2137" y="219.3" lengthAdjust="spacingAndGlyphs" textLength="69.7">CONSULTWORKS</text>
<rect x="2136.5" y="229" width="83" height="62" class="x"/>
<rect x="2140" y="232.7" width="76.7" height="10.6" class="f"/>
<rect x="2140" y="246.3" width="23.7" height="10.7" class="f"/><rect x="2166.3" y="246.3" width="24" height="10.7" class="f"/><rect x="2193.3" y="246.3" width="23.4" height="10.7" class="f"/>
<path class="bk" d="M2130 309.3H2125V357.3H2130M2425.3 309.3H2430.3V357.3H2425.3"/>
<text class="s" x="2139.3" y="312.7" lengthAdjust="spacingAndGlyphs" textLength="40.7">PERSPECTIVES</text>
<text class="s" x="2197.7" y="312.7" lengthAdjust="spacingAndGlyphs" textLength="43">RELATIONSHIPS</text>
<text class="s" x="2255" y="312.7" lengthAdjust="spacingAndGlyphs" textLength="35.7">MILESTONES</text>
<text class="s" x="2311.7" y="304.3" lengthAdjust="spacingAndGlyphs" textLength="29">EXTERNAL</text>
<text class="s" x="2311.7" y="312.7" lengthAdjust="spacingAndGlyphs" textLength="33.6">ACCOUNTS</text>
<text class="s" x="2369.3" y="312.7" lengthAdjust="spacingAndGlyphs" textLength="37.4">USAGE DATA</text>
<rect x="2137" y="317.7" width="46.3" height="33" class="f"/>
<rect x="2197.7" y="317.7" width="46.3" height="33" class="f"/>
<rect x="2254.7" y="317.7" width="46.3" height="33" class="f"/>
<rect x="2311.7" y="317.7" width="46.3" height="33" class="f"/>
<rect x="2369.7" y="317.7" width="46.3" height="33" class="f"/>
</g>

<g id="system">
<text class="h" x="2104" y="437.3" lengthAdjust="spacingAndGlyphs" textLength="43.7">SYSTEM</text>
<use href="#stack" x="2113" y="459"/>
<text class="l" x="2134.7" y="472.7" lengthAdjust="spacingAndGlyphs" textLength="60.6">ENTITLEMENTS</text>
<rect x="2136.5" y="478.5" width="83.5" height="62.5" class="x"/>
<text class="l" x="2134.7" y="566.7" lengthAdjust="spacingAndGlyphs" textLength="106">CONTENT MANAGEMENT</text>
<rect x="2136.5" y="578.5" width="83.5" height="62.5" class="x"/>
<text class="l" x="2137" y="657" lengthAdjust="spacingAndGlyphs" textLength="62.3">NOTIFICATIONS</text>
<rect x="2137" y="663.7" width="81.7" height="60.6" class="t"/>
</g>
</svg>
